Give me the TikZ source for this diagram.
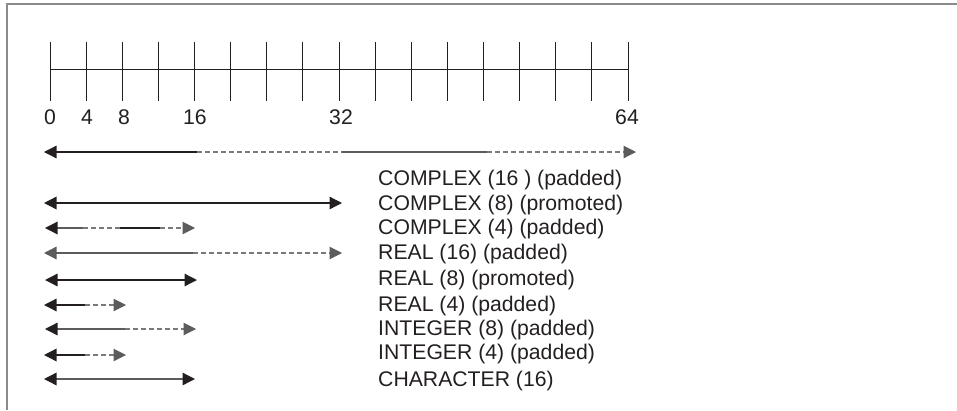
\documentclass[tikz,border=0pt]{standalone}
\usepackage{fontspec}
\setmainfont{Liberation Sans}
\usetikzlibrary{arrows.meta}
\definecolor{ink}{HTML}{231F20}
\definecolor{gr}{HTML}{5C5C5C}
\definecolor{lgr}{HTML}{7A7A7A}
\definecolor{frm}{HTML}{8A8A8A}
\tikzset{
  lbl/.style={inner sep=0pt, text=ink, font=\fontsize{21.2}{24}\selectfont},
  blk/.style={line width=1.3pt, draw=ink},
  gry/.style={line width=1.3pt, draw=gr},
  dsh/.style={line width=1.1pt, draw=lgr, dash pattern=on 5pt off 3pt},
  lk/.style={arrows={Triangle[length=12.5pt,width=12.5pt,color=ink]-}},
  lg/.style={arrows={Triangle[length=12.5pt,width=12.5pt,color=gr]-}},
  rk/.style={arrows={-Triangle[length=12.5pt,width=12.5pt,color=ink]}},
  rg/.style={arrows={-Triangle[length=12.5pt,width=12.5pt,color=gr]}},
  bk/.style={arrows={Triangle[length=12.5pt,width=12.5pt,color=ink]-Triangle[length=12.5pt,width=12.5pt,color=ink]}},
  tick/.style={line width=0.9pt, draw=ink}
}
\begin{document}
\begin{tikzpicture}[x=1pt,y=-1pt]
\useasboundingbox (0,0) rectangle (957,410);
% frame
\draw[frm, line width=1.5pt] (7,410) -- (7,4) -- (957,4);
% axis
\coordinate (ax0) at (50,69);
\coordinate (ax1) at (628,69);
\draw[tick] (ax0) -- (ax1);
\foreach \i in {0,...,16}{
  \draw[tick] ({50+\i*36.125},42) -- ({50+\i*36.125},101);
}
\node[lbl] (n0) at (50,117) {0};
\node[lbl] (n4) at (87,117) {4};
\node[lbl] (n8) at (124,117) {8};
\node[lbl] (n16) at (195,117) {16};
\node[lbl] (n32) at (341,117) {32};
\node[lbl] (n64) at (627,117) {64};
% row 0 COMPLEX(16)
\coordinate (a0L) at (44,152);
\coordinate (a0a) at (197,152);
\coordinate (a0b) at (342,152);
\coordinate (a0c) at (487,152);
\coordinate (a0R) at (636,152);
\draw[blk, lk] (a0L) -- (a0a);
\draw[dsh] (a0a) -- (a0b);
\draw[gry] (a0b) -- (a0c);
\draw[dsh, rg] (a0c) -- (a0R);
% row 1 COMPLEX(8)
\coordinate (a1L) at (44,203);
\coordinate (a1R) at (342,203);
\draw[blk, bk] (a1L) -- (a1R);
% row 2 COMPLEX(4)
\coordinate (a2L) at (45,228);
\coordinate (a2a) at (83,228);
\coordinate (a2b) at (120,228);
\coordinate (a2c) at (160,228);
\coordinate (a2R) at (195,228);
\draw[gry, lk] (a2L) -- (a2a);
\draw[dsh] (a2a) -- (a2b);
\draw[blk] (a2b) -- (a2c);
\draw[dsh, rg] (a2c) -- (a2R);
% row 3 REAL(16)
\coordinate (a3L) at (44,253);
\coordinate (a3a) at (193,253);
\coordinate (a3R) at (342,253);
\draw[gry, lg] (a3L) -- (a3a);
\draw[dsh, rg] (a3a) -- (a3R);
% row 4 REAL(8)
\coordinate (a4L) at (45,280);
\coordinate (a4R) at (197,280);
\draw[blk, bk] (a4L) -- (a4R);
% row 5 REAL(4)
\coordinate (a5L) at (44,305);
\coordinate (a5a) at (85,305);
\coordinate (a5R) at (126,305);
\draw[blk, lk] (a5L) -- (a5a);
\draw[dsh, rg] (a5a) -- (a5R);
% row 6 INTEGER(8)
\coordinate (a6L) at (45,329);
\coordinate (a6a) at (125,329);
\coordinate (a6R) at (196,329);
\draw[gry, lk] (a6L) -- (a6a);
\draw[dsh, rg] (a6a) -- (a6R);
% row 7 INTEGER(4)
\coordinate (a7L) at (44,355);
\coordinate (a7a) at (85,355);
\coordinate (a7R) at (126,355);
\draw[blk, lk] (a7L) -- (a7a);
\draw[dsh, rg] (a7a) -- (a7R);
% row 8 CHARACTER(16)
\coordinate (a8L) at (44,379);
\coordinate (a8R) at (195,379);
\draw[gry, bk] (a8L) -- (a8R);
% labels
\node[lbl, anchor=base west] (t0) at (378,185.6) {COMPLEX (16 ) (padded)};
\node[lbl, anchor=base west] (t1) at (378,210.1) {COMPLEX (8) (promoted)};
\node[lbl, anchor=base west] (t2) at (378,234.6) {COMPLEX (4) (padded)};
\node[lbl, anchor=base west] (t3) at (378,259.6) {REAL (16) (padded)};
\node[lbl, anchor=base west] (t4) at (378,285.6) {REAL (8) (promoted)};
\node[lbl, anchor=base west] (t5) at (378,311.6) {REAL (4) (padded)};
\node[lbl, anchor=base west] (t6) at (378,335.6) {INTEGER (8) (padded)};
\node[lbl, anchor=base west] (t7) at (378,359.6) {INTEGER (4) (padded)};
\node[lbl, anchor=base west] (t8) at (378,386.6) {CHARACTER (16)};
\end{tikzpicture}
\end{document}
